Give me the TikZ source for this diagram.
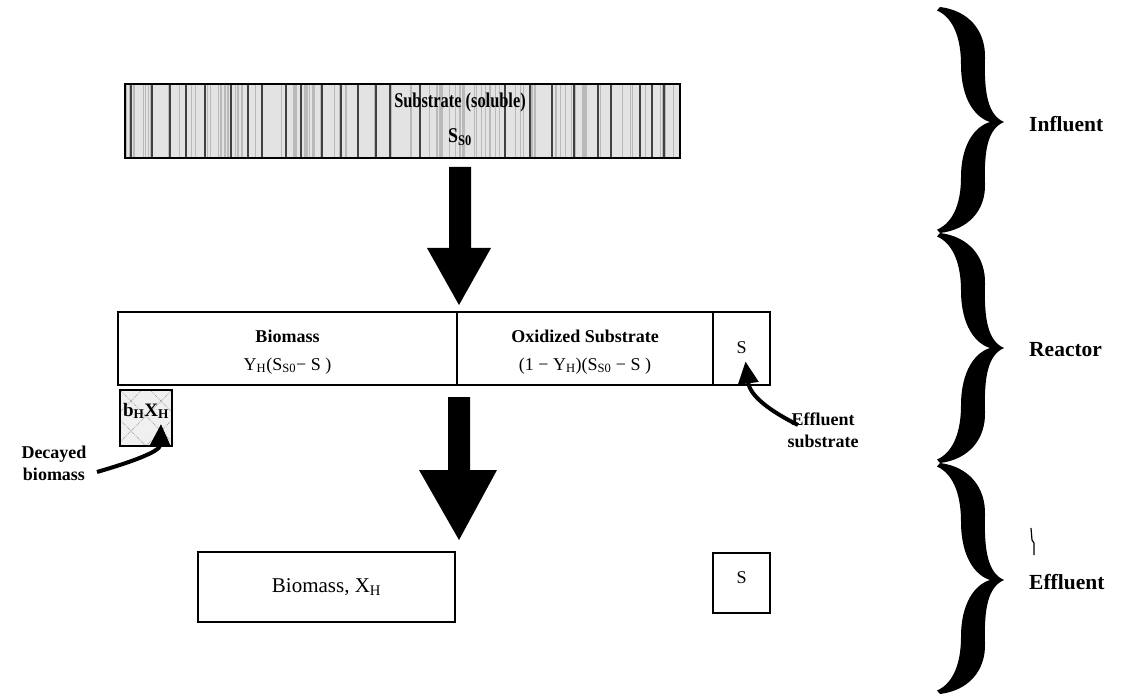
\documentclass[tikz,border=0pt]{standalone}
\usepackage{fontspec}
\setmainfont{Liberation Serif}
\usetikzlibrary{arrows.meta}
\newcommand\diafont{\fontsize{18}{28}\selectfont}
\newcommand\labfont{\fontsize{18}{22}\selectfont}
\newcommand\sidefont{\fontsize{21.5}{24}\selectfont}
\newcommand\bracedraw[3]{%
 \pgfmathsetmacro\ha{#2-#1}\pgfmathsetmacro\hb{#3-#2}%
 \fill (940,#1) .. controls (968,{#1+0.03*\ha}) and (986,{#1+0.2*\ha}) .. (985,{#1+0.45*\ha})
 .. controls (984,{#1+0.75*\ha}) and (988,{#2-0.06*\ha}) .. (1004,#2)
 .. controls (988,{#2+0.06*\hb}) and (984,{#2+0.25*\hb}) .. (985,{#2+0.55*\hb})
 .. controls (986,{#3-0.2*\hb}) and (968,{#3-0.03*\hb}) .. (940,#3)
 -- (937,{#3-0.03*\hb})
 .. controls (955,{#3-0.1*\hb}) and (961,{#3-0.3*\hb}) .. (961,{#3-0.5*\hb})
 .. controls (961,{#2+0.2*\hb}) and (975,{#2+0.04*\hb}) .. (990,#2)
 .. controls (975,{#2-0.04*\ha}) and (961,{#2-0.2*\ha}) .. (961,{#2-0.5*\ha})
 .. controls (961,{#1+0.3*\ha}) and (955,{#1+0.1*\ha}) .. (937,{#1+0.03*\ha})
 -- cycle;}
\begin{document}
\begin{tikzpicture}[x=1pt,y=-1pt,
  box/.style={draw, line width=1.3pt, inner sep=0pt, align=center, font=\diafont},
  txt/.style={inner sep=0pt, align=center, font=\diafont},
  lab/.style={inner sep=0pt, align=center, font=\labfont\bfseries},
  side/.style={inner sep=0pt, anchor=west, font=\sidefont\bfseries},
  curvearrow/.style={line width=4pt, -{Triangle[length=22pt,width=20pt]}},
  blockarrow/.style={fill=black}]
\useasboundingbox (0,0) rectangle (1125,695);

% influent box with vertical stripes
\fill[gray!22] (125,84) rectangle (680,158);
\pgfmathsetseed{11}
\foreach \i in {1,...,110}{
  \pgfmathsetmacro\xx{126+553*rnd}
  \pgfmathsetmacro\ww{0.4+1.2*rnd}
  \draw[gray!55, line width=\ww pt] (\xx,85) -- (\xx,157);}
\foreach \xx in {131,152,170,186,205,231,248,262,286,301,322,341,358,376,390,420,505,530,552,574,598,611,640,652,664}{
  \draw[black!75, line width=1.1pt] (\xx,85) -- (\xx,157);}
\node[box, minimum width=555pt, minimum height=74pt] (infl) at (402.5,121) {};
\node[inner sep=0pt, align=center, font=\fontsize{21}{35}\selectfont\bfseries] (subst) at (460,119)
  {\scalebox{0.78}[1]{Substrate (soluble)}\\\scalebox{0.85}[1]{S\textsubscript{S0}}};

% arrow 1
\fill[blockarrow] (449,167) -- (471,167) -- (471,248) -- (491,248) -- (459,305) -- (427,248) -- (449,248) -- cycle;

% reactor row
\node[box, minimum width=339pt, minimum height=73pt] (bio) at (287.5,348.5) {};
\node[box, minimum width=256pt, minimum height=73pt] (ox) at (585,348.5) {};
\node[box, minimum width=57pt, minimum height=73pt] (sc) at (741.5,348.5) {};
\node[txt] (biot) at (287.5,352) {\textbf{Biomass}\\Y\textsubscript{H}(S\textsubscript{S0}− S~)};
\node[txt] (oxt) at (585,352) {\textbf{Oxidized Substrate}\\(1 − Y\textsubscript{H})(S\textsubscript{S0} − S~)};
\node[txt] (sct) at (741.5,348) {S};

% decayed biomass box
\fill[gray!12] (120,390) rectangle (172,446);
\begin{scope}
  \clip (120,390) rectangle (172,446);
  \foreach \d in {-60,-30,0,30,60}{
    \draw[gray!70, densely dotted, line width=0.8pt] ({120+\d},390) -- ({176+\d},446);
    \draw[gray!70, densely dotted, line width=0.8pt] ({172-\d},390) -- ({116-\d},446);}
\end{scope}
\node[box, minimum width=52pt, minimum height=56pt] (bx) at (146,418) {};
\node[inner sep=0pt, font=\fontsize{19}{22}\selectfont\bfseries] (bxt) at (146,411) {b\textsubscript{H}X\textsubscript{H}};

\node[lab] (dec) at (54,463) {Decayed\\biomass};
\coordinate (decA) at (97,472);
\draw[curvearrow] (decA) .. controls (128,463) and (160,452) .. ([shift={(15,6)}]bx.center);

\node[lab] (eff) at (823,430) {Effluent\\substrate};
\coordinate (effA) at (798,425);
\draw[curvearrow] (effA) .. controls (770,411) and (750,396) .. ([shift={(4,13)}]sc.center);

% arrow 2
\fill[blockarrow] (448,397) -- (470,397) -- (470,470) -- (497,470) -- (459,540) -- (419,470) -- (448,470) -- cycle;

% effluent boxes
\node[box, minimum width=257pt, minimum height=70pt, font=\fontsize{21}{24}\selectfont] (bxh) at (326.5,587) {Biomass, X\textsubscript{H}};
\node[box, minimum width=57pt, minimum height=60pt] (se) at (741.5,583) {};
\node[txt] (set) at (741.5,578) {S};

% braces
\bracedraw{7}{122}{233}
\bracedraw{233}{348}{463}
\bracedraw{463}{580}{694}
\draw[line width=1.2pt] (1031,528) -- (1032,540) -- (1034,543) -- (1034,555);

\node[side] (lin) at (1029,124) {Influent};
\node[side] (lre) at (1029,350) {Reactor};
\node[side] (lef) at (1029,582) {Effluent};
\end{tikzpicture}
\end{document}
